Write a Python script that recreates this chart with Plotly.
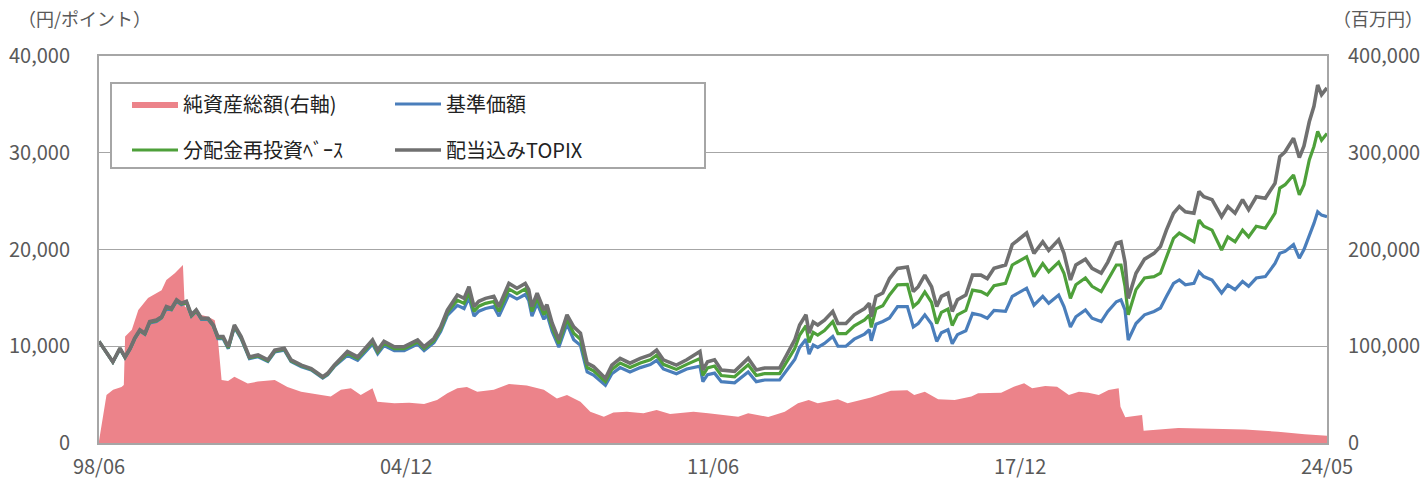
import plotly.graph_objects as go

# ---- Line series (left axis, 円/ポイント) ----
line_dates = [
    "1998-06-01", "1998-09-16", "1998-11-10", "1998-12-19", "1999-01-28", "1999-03-04",
    "1999-04-13", "1999-05-22", "1999-06-28", "1999-08-19", "1999-09-28", "1999-11-04",
    "1999-12-13", "2000-01-22", "2000-02-28", "2000-04-07", "2000-05-16", "2000-06-22",
    "2000-08-01", "2000-09-22", "2000-11-01", "2000-12-07", "2001-01-16", "2001-02-25",
    "2001-04-13", "2001-06-04", "2001-08-07", "2001-10-13", "2001-12-28", "2002-02-19",
    "2002-05-04", "2002-06-25", "2002-09-13", "2002-11-28", "2003-02-25", "2003-04-04",
    "2003-05-25", "2003-09-04", "2003-11-22", "2004-03-16", "2004-04-25", "2004-06-13",
    "2004-09-01", "2004-11-16", "2005-02-28", "2005-04-19", "2005-07-04", "2005-08-25",
    "2005-10-16", "2006-01-01", "2006-02-22", "2006-04-01", "2006-05-10", "2006-06-16",
    "2006-08-07", "2006-10-10", "2006-11-19", "2007-01-10", "2007-02-04", "2007-04-07",
    "2007-06-10", "2007-07-07", "2007-08-01", "2007-09-10", "2007-11-01", "2007-11-25",
    "2008-01-04", "2008-02-25", "2008-04-28", "2008-06-19", "2008-08-10", "2008-09-16",
    "2008-10-01", "2008-11-19", "2009-02-19", "2009-04-10", "2009-06-13", "2009-08-28",
    "2009-11-16", "2010-02-01", "2010-03-22", "2010-05-13", "2010-08-22", "2010-11-10",
    "2011-02-20", "2011-03-15", "2011-04-20", "2011-06-13", "2011-08-04", "2011-11-15",
    "2012-02-28", "2012-05-01", "2012-07-04", "2012-10-28", "2013-01-01", "2013-02-22",
    "2013-04-01", "2013-05-20", "2013-06-13", "2013-07-15", "2013-08-19", "2013-10-10",
    "2013-12-13", "2014-01-22", "2014-03-25", "2014-05-28", "2014-08-16", "2014-09-22",
    "2014-10-07", "2014-11-12", "2015-01-04", "2015-02-25", "2015-04-28", "2015-07-13",
    "2015-08-28", "2015-10-05", "2015-11-25", "2016-01-16", "2016-02-25", "2016-04-01",
    "2016-05-22", "2016-06-24", "2016-08-03", "2016-10-07", "2016-11-28", "2017-02-01",
    "2017-03-22", "2017-05-13", "2017-08-10", "2017-10-01", "2018-01-20", "2018-03-18",
    "2018-05-25", "2018-07-10", "2018-09-25", "2018-11-05", "2018-12-25", "2019-02-05",
    "2019-04-20", "2019-06-10", "2019-08-20", "2019-10-10", "2019-12-15", "2020-01-20",
    "2020-02-20", "2020-03-16", "2020-05-15", "2020-07-20", "2020-10-01", "2020-11-20",
    "2021-01-05", "2021-03-01", "2021-04-15", "2021-06-01", "2021-08-06", "2021-09-14",
    "2021-10-21", "2021-12-24", "2022-03-08", "2022-04-25", "2022-06-20", "2022-08-17",
    "2022-10-03", "2022-12-01", "2023-02-09", "2023-04-25", "2023-06-01", "2023-07-12",
    "2023-09-15", "2023-10-30", "2023-12-05", "2024-01-15", "2024-02-20", "2024-03-20",
    "2024-04-19", "2024-05-31",
]

topix = [  # 配当込みTOPIX
    10500, 8400, 9800, 8900, 9800, 10850, 11700, 11350, 12550, 12700, 13050, 14100,
    13900, 14800, 14450, 14650, 13250, 13750, 12900, 12900, 12200, 11000, 11000, 9950,
    12200, 11000, 8900, 9100, 8600, 9600, 9800, 8600, 8050, 7700, 6850, 7200,
    8050, 9450, 8900, 10650, 9600, 10500, 9950, 9950, 10650, 9950, 10800, 12000,
    13750, 15300, 14950, 16150, 14100, 14650, 14950, 15150, 14100, 15650, 16500, 16000,
    16500, 15850, 14100, 15500, 13750, 14300, 12400, 10650, 13250, 12000, 11350, 9100,
    8250, 7900, 6700, 8050, 8750, 8250, 8750, 9100, 9600, 8600, 8050, 8600,
    9450, 7550, 8400, 8600, 7550, 7400, 8750, 7550, 7750, 7750, 9450, 10650,
    12200, 13250, 11350, 12500, 12200, 12700, 13600, 12350, 12350, 13250, 13900, 14450,
    13050, 15150, 15500, 17000, 18050, 18200, 15650, 16150, 17350, 16150, 14100, 15150,
    15500, 13600, 14800, 15300, 17350, 17350, 17000, 18050, 18400, 20500, 21700, 19600,
    20800, 19900, 21000, 19600, 16850, 18400, 19000, 18050, 17550, 18700, 20650, 20800,
    18700, 14950, 17550, 19000, 19600, 20300, 22000, 23750, 24450, 23900, 23750, 26000,
    25450, 25150, 23400, 24450, 23750, 25150, 24100, 25450, 25300, 26850, 29600, 30100,
    31500, 29500, 30700, 33200, 34800, 37000, 36000, 36700,
]

reinvest = [  # 分配金再投資ベース
    10500, 8380, 9760, 8860, 9760, 10800, 11640, 11290, 12490, 12640, 12980, 14030,
    13830, 14730, 14380, 14580, 13180, 13680, 12840, 12840, 12140, 10900, 10900, 9850,
    12080, 10890, 8810, 9010, 8510, 9500, 9700, 8510, 7970, 7620, 6780, 7130,
    7970, 9260, 8720, 10440, 9410, 10290, 9750, 9750, 10440, 9750, 10580, 11760,
    13480, 14760, 14430, 15580, 13610, 14140, 14430, 14620, 13610, 15100, 15920, 15440,
    15920, 15300, 13610, 14960, 13270, 13800, 11970, 10280, 12790, 11340, 10730, 8600,
    7800, 7470, 6330, 7610, 8270, 7800, 8270, 8600, 9070, 8130, 7610, 8130,
    8740, 6980, 7770, 7960, 6980, 6850, 8090, 6980, 7170, 7170, 8650, 9750,
    11160, 12120, 10390, 11440, 11160, 11620, 12550, 11300, 11300, 12120, 12720, 13220,
    11940, 13860, 14180, 15300, 16350, 16400, 14100, 14540, 15620, 14540, 12350, 13500,
    13850, 12150, 13250, 13700, 15800, 15650, 15300, 16250, 16500, 18400, 19250, 17200,
    18550, 17700, 18700, 17550, 14950, 16350, 17050, 16200, 15650, 16850, 18400, 18400,
    16200, 13250, 15850, 17050, 17200, 17550, 19250, 21150, 21700, 21300, 20800, 23050,
    22400, 22000, 19950, 21300, 20800, 22000, 21300, 22400, 22200, 23750, 26350, 26700,
    27700, 25650, 26700, 29250, 30650, 32200, 31300, 32000,
]

nav = [  # 基準価額
    10500, 8350, 9720, 8820, 9720, 10750, 11580, 11230, 12420, 12570, 12920, 13960,
    13760, 14650, 14300, 14500, 13120, 13610, 12770, 12770, 12080, 10780, 10780, 9750,
    11960, 10780, 8720, 8920, 8430, 9410, 9600, 8430, 7890, 7550, 6710, 7060,
    7890, 9070, 8540, 10220, 9220, 10080, 9550, 9550, 10220, 9550, 10370, 11520,
    13200, 14230, 13900, 15020, 13110, 13620, 13900, 14090, 13110, 14550, 15350, 14880,
    15350, 14740, 13110, 14420, 12790, 13300, 11530, 9900, 12320, 10680, 10100, 8100,
    7340, 7030, 5960, 7160, 7790, 7340, 7790, 8100, 8540, 7650, 7160, 7650,
    7940, 6340, 7060, 7220, 6340, 6220, 7350, 6340, 6510, 6510, 7650, 8630,
    9880, 10730, 9190, 10130, 9880, 10290, 11000, 10000, 10000, 10730, 11260, 11700,
    10570, 12270, 12560, 12920, 14100, 14100, 12000, 12350, 13250, 12300, 10500, 11400,
    11700, 10250, 11200, 11600, 13400, 13200, 12900, 13700, 13600, 15150, 16000, 14250,
    15150, 14450, 15300, 14100, 12000, 13050, 13750, 12900, 12550, 13600, 14600, 14800,
    13750, 10650, 12350, 13250, 13600, 13950, 15150, 16500, 16850, 16350, 16500, 17700,
    17200, 16850, 15500, 16350, 15850, 16700, 16200, 17050, 17200, 18550, 19600, 19800,
    20500, 19100, 20000, 21350, 22700, 23900, 23550, 23400,
]

# ---- Net assets (right axis, 百万円) ----
asset_dates = [
    "1998-06-01", "1998-07-29", "1998-09-18", "1998-11-22", "1998-12-10", "1998-12-20",
    "1999-02-10", "1999-04-01", "1999-06-15", "1999-09-28", "1999-11-04", "2000-01-08",
    "2000-03-11", "2000-03-25", "2000-06-10", "2000-09-22", "2000-11-12", "2000-12-07",
    "2001-01-04", "2001-02-23", "2001-04-13", "2001-07-25", "2001-10-11", "2002-02-19",
    "2002-05-28", "2002-09-11", "2003-02-13", "2003-04-28", "2003-07-16", "2003-10-01",
    "2003-12-16", "2004-03-16", "2004-04-22", "2004-09-01", "2004-12-25", "2005-04-19",
    "2005-07-28", "2005-10-16", "2006-01-01", "2006-03-16", "2006-06-04", "2006-10-10",
    "2007-02-04", "2007-06-22", "2007-11-01", "2008-02-10", "2008-04-28", "2008-08-10",
    "2008-10-25", "2009-02-07", "2009-04-22", "2009-08-04", "2009-12-10", "2010-03-22",
    "2010-07-04", "2011-01-01", "2011-04-25", "2011-12-13", "2012-02-28", "2012-08-01",
    "2012-12-07", "2013-03-19", "2013-06-10", "2013-08-19", "2014-01-22", "2014-04-07",
    "2014-10-04", "2015-03-07", "2015-07-13", "2015-09-04", "2015-11-25", "2016-03-07",
    "2016-07-13", "2016-11-19", "2017-01-10", "2017-07-07", "2017-10-13", "2018-01-01",
    "2018-03-04", "2018-06-13", "2018-09-13", "2018-12-13", "2019-02-28", "2019-05-13",
    "2019-08-01", "2019-10-16", "2020-01-02", "2020-01-16", "2020-02-22", "2020-05-10",
    "2020-07-01", "2020-07-13", "2020-12-01", "2021-04-07", "2021-12-22", "2022-09-04",
    "2023-05-19", "2023-12-10", "2024-05-31",
]
net_assets = [
    2000, 49500, 55000, 58000, 60000, 110000,
    117000, 137500, 150000, 158000, 168500, 175500,
    184000, 141000, 134000, 130500, 127000, 106500,
    65000, 64000, 68500, 61500, 63500, 65000,
    58000, 53000, 49500, 48000, 55000, 56500,
    49500, 56500, 42700, 41000, 41700, 40400,
    44500, 51400, 56500, 58000, 53000, 55000,
    61000, 59500, 55000, 46000, 49500, 42700,
    32400, 27200, 31400, 32400, 30700, 34100,
    30000, 32400, 30700, 27200, 30700, 26900,
    32400, 41000, 44500, 41000, 45200, 41000,
    47000, 54100, 54500, 49500, 53000, 45200,
    44500, 48000, 51400, 52000, 58200, 61700,
    56500, 59000, 58200, 49600, 53000, 52000,
    49600, 54800, 56500, 37500, 26500, 28000,
    29000, 12700, 14000, 15500, 14800, 14000,
    11700, 9000, 7600,
]

# ---- Axis labels ----
x_tick_vals = ["1998-06-01", "2004-12-01", "2011-06-01", "2017-12-01", "2024-05-31"]
x_tick_text = ["98/06", "04/12", "11/06", "17/12", "24/05"]
left_ticks = [0, 10000, 20000, 30000, 40000]
right_ticks = [0, 100000, 200000, 300000, 400000]

FONT = "Noto Sans CJK JP"
TXT = "#595959"
AXC = "#A6A6A6"

W, H = 1423, 479
ML, MR, MT, MB = 99, 96, 56, 36
PW, PH = W - ML - MR, H - MT - MB


def px(xp):
    return (xp - ML) / PW


def py(yp):
    return (H - MB - yp) / PH


fig = go.Figure()
fig.add_trace(go.Scatter(
    x=asset_dates, y=net_assets, name="純資産総額(右軸)", mode="lines",
    line=dict(width=0, color="#EC838A"), fill="tozeroy", fillcolor="#EC838A",
    yaxis="y", legend="legend",
))
fig.add_trace(go.Scatter(
    x=line_dates, y=nav, name="基準価額", mode="lines",
    line=dict(width=3.2, color="#4A7EBB"), yaxis="y2", legend="legend",
))
fig.add_trace(go.Scatter(
    x=line_dates, y=reinvest, name="分配金再投資ﾍﾞｰｽ", mode="lines",
    line=dict(width=3.2, color="#4EA03A"), yaxis="y2", legend="legend2",
))
fig.add_trace(go.Scatter(
    x=line_dates, y=topix, name="配当込みTOPIX", mode="lines",
    line=dict(width=3.6, color="#707070"), yaxis="y2", legend="legend2",
))

leg_common = dict(
    orientation="h", xanchor="left", yanchor="middle",
    font=dict(family=FONT, size=20, color="#222222"),
    bgcolor="rgba(0,0,0,0)", borderwidth=0,
    entrywidth=202, entrywidthmode="pixels", itemwidth=46,
    traceorder="normal",
)

fig.update_layout(
    width=W, height=H,
    margin=dict(l=ML, r=MR, t=MT, b=MB, autoexpand=False),
    paper_bgcolor="white", plot_bgcolor="white",
    font=dict(family=FONT, size=20, color=TXT),
    xaxis=dict(
        type="date", range=["1998-06-01", "2024-05-31"],
        tickvals=x_tick_vals, ticktext=x_tick_text, automargin=False,
        showgrid=False, showline=True, mirror=True, linecolor=AXC, linewidth=2,
        ticks="", tickfont=dict(size=20, color=TXT), zeroline=False,
        ticklabelstandoff=5,
    ),
    yaxis=dict(
        side="right", range=[0, 400000], tickvals=right_ticks, tickformat=",d",
        showgrid=True, gridcolor=AXC, gridwidth=1, automargin=False,
        showline=True, mirror=True, linecolor=AXC, linewidth=2,
        ticks="", tickfont=dict(size=20, color=TXT), zeroline=False,
        ticklabelstandoff=15,
    ),
    yaxis2=dict(
        overlaying="y", side="left", range=[0, 40000], tickvals=left_ticks,
        tickformat=",d", showgrid=False, showline=False, ticks="", automargin=False,
        tickfont=dict(size=20, color=TXT), zeroline=False,
        ticklabelstandoff=28,
    ),
    legend=dict(x=px(127), y=py(104), **leg_common),
    legend2=dict(x=px(127), y=py(150), **leg_common),
    shapes=[dict(
        type="rect", xref="paper", yref="paper",
        x0=px(111), x1=px(705), y0=py(168), y1=py(83),
        line=dict(color=AXC, width=2), fillcolor="white", layer="above",
    )],
    annotations=[
        dict(text="（円/ポイント）", xref="paper", yref="paper", x=px(84), y=py(18),
             xanchor="center", yanchor="middle", showarrow=False,
             font=dict(family=FONT, size=18, color=TXT)),
        dict(text="（百万円）", xref="paper", yref="paper", x=px(1378), y=py(18),
             xanchor="center", yanchor="middle", showarrow=False,
             font=dict(family=FONT, size=18, color=TXT)),
    ],
    showlegend=True,
)

fig.write_html(
    "out.html",
    config={"displayModeBar": False},
    post_script="document.body.style.margin='0';document.body.style.overflow='hidden';",
)
